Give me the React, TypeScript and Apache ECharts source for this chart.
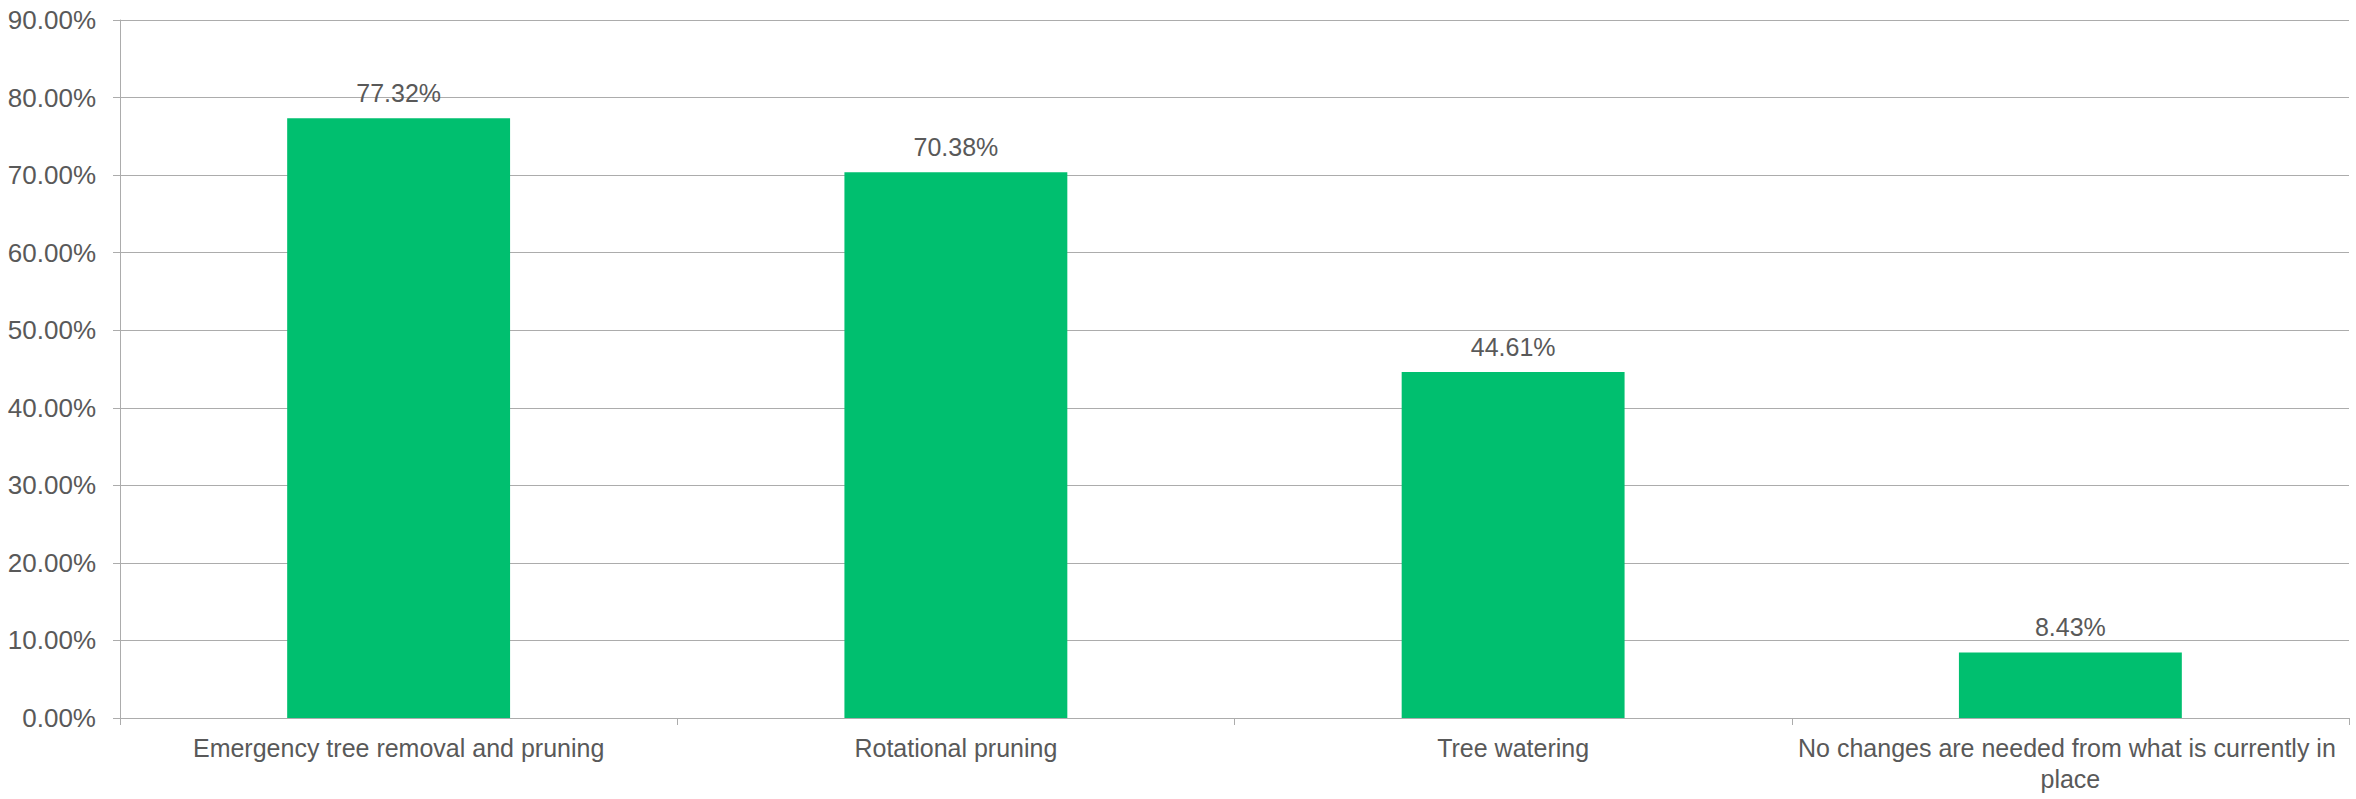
import React, { useEffect, useRef } from "react";
import * as echarts from "echarts";

const categories: string[] = [
  "Emergency tree removal and pruning",
  "Rotational pruning",
  "Tree watering",
  "No changes are needed from what is currently in place",
];
const values: number[] = [77.32, 70.38, 44.61, 8.43];
const yMax = 90;
const yInterval = 10;

export default function App() {
  const ref = useRef<HTMLDivElement>(null);
  useEffect(() => {
    document.body.style.margin = "0";
    if (!ref.current) return;
    const chart = echarts.init(ref.current, undefined, { renderer: "svg" });
    const textColor = "#595959";
    const lineColor = "#acacac";
    const font = "'Liberation Sans', Arial, sans-serif";
    chart.setOption({
      animation: false,
      grid: { left: 120, right: 7, top: 20, bottom: 81, containLabel: false },
      xAxis: {
        type: "category",
        data: categories,
        axisLine: { show: true, lineStyle: { color: lineColor, width: 1 } },
        axisTick: { show: true, length: 7, lineStyle: { color: lineColor } },
        axisLabel: {
          color: textColor,
          fontSize: 25,
          fontFamily: font,
          margin: 14,
          lineHeight: 31,
          interval: 0,
          width: 545,
          overflow: "break",
        },
      },
      yAxis: {
        type: "value",
        min: 0,
        max: yMax,
        interval: yInterval,
        axisLine: { show: true, lineStyle: { color: lineColor, width: 1 } },
        axisTick: { show: true, length: 7, lineStyle: { color: lineColor } },
        splitLine: { show: true, lineStyle: { color: lineColor, width: 1 } },
        axisLabel: {
          color: textColor,
          fontSize: 26,
          fontFamily: font,
          margin: 24,
          formatter: (v: number) => `${v.toFixed(2)}%`,
        },
      },
      series: [
        {
          type: "bar",
          data: values,
          barWidth: "40%",
          itemStyle: { color: "#00BF6F" },
          label: {
            show: true,
            position: "top",
            distance: 13,
            color: textColor,
            fontSize: 25,
            fontFamily: font,
            formatter: (p: any) => `${Number(p.value).toFixed(2)}%`,
          },
        },
      ],
    });
    return () => chart.dispose();
  }, []);
  return <div ref={ref} style={{ width: 2356, height: 799 }} />;
}
